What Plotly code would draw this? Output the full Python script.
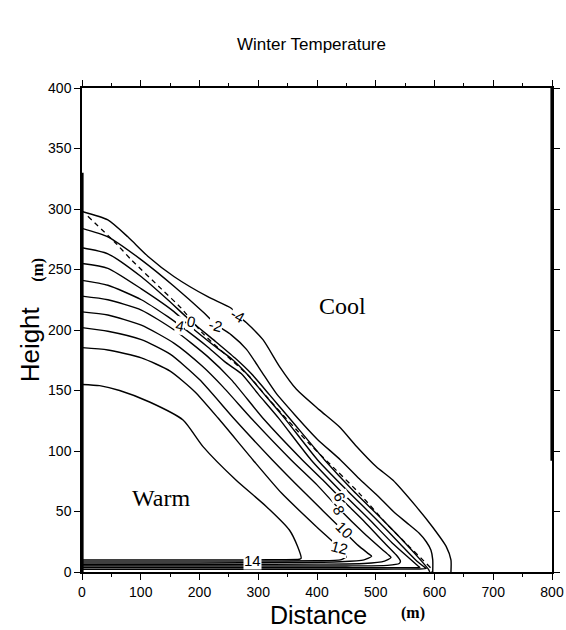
import plotly.graph_objects as go

# ---- contour lines (Distance m, Height m) ----
c_m4_x = [0, 44, 78, 112, 157, 214, 254, 265, 280, 308, 336, 365, 404, 438, 467, 501, 529, 569, 597, 620, 628, 628]
c_m4_y = [298, 291, 277, 261, 244, 227.5, 218, 212, 206, 192, 170, 151, 134, 120, 104, 87, 76, 54, 37, 21, 10, 0]

c_m2_x = [0, 44, 101, 157, 208, 228, 254, 280, 305, 330, 362, 400, 440, 472, 501, 530, 552, 574, 586, 594, 597, 597]
c_m2_y = [284, 277, 258, 236, 214, 204.5, 196, 184, 166, 148, 130, 110, 92.6, 77, 64, 50, 41, 32, 25, 18, 10, 0]

dash_x = [10, 55, 84, 135, 169, 206, 257, 284, 314, 387, 433, 472, 518, 557, 580, 594, 596]
dash_y = [294, 273, 258, 234, 218, 197, 174, 162, 145, 106, 84, 65, 40, 21, 10, 3, 0]

c_0_x = [0, 44, 101, 146, 186, 226, 260, 288, 320, 355, 413, 460, 510, 550, 578, 590, 592]
c_0_y = [268, 263, 244, 225, 207, 191, 177, 164, 146, 126, 92.6, 68, 44, 24, 9, 2, 0]

c_2_x = [0, 44, 101, 157, 177, 225, 255, 280, 310, 345, 401, 450, 500, 540, 568, 583, 586, 570, 500, 0]
c_2_y = [255, 251, 234, 215, 206, 187, 176, 164, 147, 127, 92.6, 68, 44, 24, 10, 4, 2.8, 2.5, 2.3, 2.2]

c_4_x = [0, 44, 101, 146, 166, 214, 245, 271, 300, 335, 390, 440, 490, 528, 558, 572, 575, 560, 500, 0]
c_4_y = [241, 237, 225, 211, 204, 186, 173, 164, 147, 127, 92.6, 67, 43, 24, 11, 5, 3.8, 3.6, 3.5, 3.5]

c_6_x = [0, 44, 101, 157, 214, 254, 310, 375, 410, 438, 480, 515, 535, 542, 540, 520, 450, 300, 0]
c_6_y = [228, 225, 216.5, 200, 178, 159, 126, 92.6, 76, 62, 42, 24, 14, 9, 7, 5.5, 5, 5, 5]

c_8_x = [0, 44, 101, 157, 205, 240, 290, 356, 400, 438, 480, 510, 522, 526, 515, 480, 400, 250, 0]
c_8_y = [215, 212.4, 204, 189, 170, 153, 126, 92.6, 72, 52, 32, 19, 14, 12, 9, 7, 6.5, 6.2, 6]

c_10_x = [0, 44, 101, 150, 200, 260, 324, 380, 443, 470, 488, 493, 480, 440, 350, 200, 0]
c_10_y = [202, 199, 192, 180, 159, 126, 92.6, 65, 35, 22, 15, 13, 10, 8.5, 7.8, 7.5, 7.5]

c_12_x = [0, 44, 101, 150, 192, 232, 291, 340, 400, 438, 447, 450, 440, 400, 300, 150, 0]
c_12_y = [185.4, 183.5, 177, 166, 149, 127, 92.6, 65, 37, 20, 15, 12.6, 10, 9.3, 9, 9, 9]

c_14_x = [0, 30, 64, 115, 172, 206, 262, 314, 353, 367, 373, 370, 340, 291, 200, 100, 0]
c_14_y = [155, 154, 150, 140.5, 125.6, 103.6, 76, 54, 34.7, 21, 11.3, 10.5, 10.2, 10, 10, 10, 10]

# contour labels: text, x, y, angle
lab_text = ["-4", "-2", "0", "4", "6", "8", "10", "12", "14"]
lab_x = [265, 228, 186, 166, 438, 438, 446, 438, 291]
lab_y = [212, 204, 207, 204, 62, 51, 35, 20, 9.3]
lab_ang = [30, 15, 12, 12, 65, 65, 45, 15, 0]

region_text = ["Cool", "Warm"]
region_x = [443, 134]
region_y = [220, 61]

x_ticks = [0, 100, 200, 300, 400, 500, 600, 700, 800]
y_ticks = [0, 50, 100, 150, 200, 250, 300, 350, 400]

fig = go.Figure()
solid = [(c_m4_x, c_m4_y), (c_m2_x, c_m2_y), (c_0_x, c_0_y), (c_2_x, c_2_y),
         (c_4_x, c_4_y), (c_6_x, c_6_y), (c_8_x, c_8_y), (c_10_x, c_10_y),
         (c_12_x, c_12_y), (c_14_x, c_14_y)]
for xs, ys in solid:
    fig.add_trace(go.Scatter(x=xs, y=ys, mode="lines",
                             line=dict(color="black", width=1.4, shape="spline", smoothing=0.6),
                             hoverinfo="skip", showlegend=False))
fig.add_trace(go.Scatter(x=dash_x, y=dash_y, mode="lines",
                         line=dict(color="black", width=1.3, dash="5px,4px", shape="spline", smoothing=0.6),
                         hoverinfo="skip", showlegend=False))
# heavy boundary contours hugging the left and right edges
fig.add_trace(go.Scatter(x=[1.2, 1.2], y=[0, 330], mode="lines",
                         line=dict(color="black", width=1.8), hoverinfo="skip", showlegend=False))
fig.add_trace(go.Scatter(x=[798.8, 798.8], y=[92, 400], mode="lines",
                         line=dict(color="black", width=1.8), hoverinfo="skip", showlegend=False))

for t, x, y, a in zip(lab_text, lab_x, lab_y, lab_ang):
    fig.add_annotation(x=x, y=y, text=t, showarrow=False, textangle=a,
                       font=dict(family="Liberation Sans, Arial", size=15, color="black"),
                       bgcolor="white", borderpad=0)
for t, x, y in zip(region_text, region_x, region_y):
    fig.add_annotation(x=x, y=y, text=t, showarrow=False,
                       font=dict(family="Liberation Serif, Times New Roman", size=24, color="black"))

axis_common = dict(showline=True, linecolor="black", linewidth=1.5, mirror="ticks",
                   ticks="outside", ticklen=6, tickwidth=1.3, tickcolor="black",
                   showgrid=False, zeroline=False, automargin=False,
                   tickfont=dict(family="Liberation Sans, Arial", size=14, color="black"))
fig.update_xaxes(range=[0, 800], tickvals=x_ticks, ticktext=[str(v) for v in x_ticks],
                 minor=dict(ticks="outside", ticklen=3, tickwidth=1.2, tickcolor="black", dtick=50, tick0=0),
                 **axis_common)
fig.update_yaxes(range=[0, 400], tickvals=y_ticks, ticktext=[str(v) for v in y_ticks],
                 **axis_common)

title_font = dict(family="Liberation Sans, Arial", size=17, color="black")
fig.add_annotation(xref="paper", yref="paper", x=0.488, y=1.089, xanchor="center", yanchor="middle",
                   text="Winter Temperature", showarrow=False, font=title_font)
fig.add_annotation(xref="paper", yref="paper", x=0.504, y=-0.088, xanchor="center", yanchor="middle",
                   text="Distance", showarrow=False,
                   font=dict(family="Liberation Sans, Arial", size=25, color="black"))
fig.add_annotation(xref="paper", yref="paper", x=0.704, y=-0.084, xanchor="center", yanchor="middle",
                   text="<b>(m)</b>", showarrow=False,
                   font=dict(family="Liberation Serif, Times New Roman", size=16, color="black"))
fig.add_annotation(xref="paper", yref="paper", x=-0.111, y=0.47, xanchor="center", yanchor="middle",
                   text="Height", textangle=-90, showarrow=False,
                   font=dict(family="Liberation Sans, Arial", size=26, color="black"))
fig.add_annotation(xref="paper", yref="paper", x=-0.094, y=0.624, xanchor="center", yanchor="middle",
                   text="<b>(m)</b>", textangle=-90, showarrow=False,
                   font=dict(family="Liberation Serif, Times New Roman", size=16, color="black"))

fig.update_layout(width=566, height=630, margin=dict(l=82, r=14, t=88, b=58, autoexpand=False),
                  plot_bgcolor="white", paper_bgcolor="white")
fig.write_html("out.html")
